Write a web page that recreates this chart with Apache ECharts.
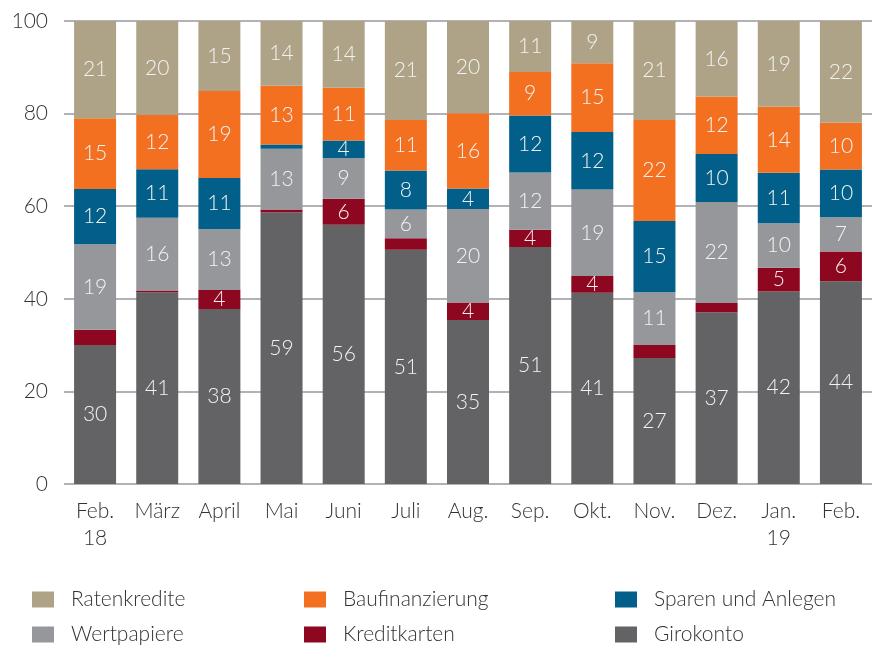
<!DOCTYPE html>
<html>
<head>
<meta charset="utf-8">
<script src="https://cdn.jsdelivr.net/npm/echarts@6/dist/echarts.min.js"></script>
<style>
  html, body { margin: 0; padding: 0; background: #fff; }
  #chart { width: 881px; height: 645px; }
</style>
</head>
<body>
<div id="chart"></div>
<script>
const months = ['Feb.\n18', 'März', 'April', 'Mai', 'Juni', 'Juli', 'Aug.', 'Sep.', 'Okt.', 'Nov.', 'Dez.', 'Jan.\n19', 'Feb.'];
const yTicks = [0, 20, 40, 60, 80, 100];

// shares in percent
const girokonto      = [30.0, 41.4, 37.8, 58.7, 56.0, 50.6, 35.4, 51.2, 41.3, 27.2, 37.1, 41.6, 43.8];
const kreditkarten   = [3.3, 0.4, 4.1, 0.6, 5.6, 2.5, 3.8, 3.7, 3.6, 2.8, 2.0, 5.1, 6.4];
const wertpapiere    = [18.5, 15.7, 13.2, 13.1, 8.8, 6.2, 20.2, 12.4, 18.7, 11.4, 21.8, 9.6, 7.4];
const sparen         = [11.9, 10.5, 11.0, 0.9, 3.8, 8.4, 4.4, 12.3, 12.4, 15.4, 10.4, 10.9, 10.3];
const baufinanzierung = [15.3, 11.7, 18.8, 12.7, 11.4, 10.9, 16.3, 9.4, 14.9, 21.8, 12.4, 14.3, 10.1];
const ratenkredite   = [21.0, 20.3, 15.1, 14.0, 14.4, 21.4, 19.9, 11.0, 9.1, 21.4, 16.3, 18.5, 22.0];

const FONT = 'Lato';
const chart = echarts.init(document.getElementById('chart'));

function bar(name, data, color) {
  return {
    name: name,
    type: 'bar',
    stack: 'total',
    barWidth: 42,
    data: data,
    itemStyle: { color: color },
    label: {
      show: true,
      position: 'inside',
      color: '#f2f2f2',
      fontFamily: FONT,
      fontWeight: 300,
      fontSize: 21,
      formatter: function (p) { return p.value >= 3.5 ? Math.round(p.value) : ''; }
    }
  };
}

// one legend per entry, laid out as 2 rows x 3 columns
function legend(left, top, name) {
  return {
    left: left,
    top: top,
    itemWidth: 22,
    itemHeight: 16,
    icon: 'rect',
    padding: 0,
    textStyle: {
      color: '#333',
      fontFamily: FONT,
      fontWeight: 300,
      fontSize: 21,
      padding: [0, 0, 0, 12]
    },
    data: [name]
  };
}

chart.setOption({
  animation: false,
  grid: { left: 64, right: 9, top: 21, bottom: 161 },
  legend: [
    legend(32, 589, 'Ratenkredite'),
    legend(32, 624, 'Wertpapiere'),
    legend(304, 589, 'Baufinanzierung'),
    legend(304, 624, 'Kreditkarten'),
    legend(615, 589, 'Sparen und Anlegen'),
    legend(615, 624, 'Girokonto')
  ],
  xAxis: {
    type: 'category',
    data: months,
    axisLine: { show: false },
    axisTick: { show: false },
    axisLabel: {
      color: '#333',
      fontFamily: FONT,
      fontWeight: 300,
      fontSize: 21,
      lineHeight: 27,
      margin: 14,
      interval: 0
    }
  },
  yAxis: {
    type: 'value',
    min: yTicks[0],
    max: yTicks[yTicks.length - 1],
    interval: yTicks[1] - yTicks[0],
    axisLine: { show: false },
    axisTick: { show: false },
    splitLine: { lineStyle: { color: '#b2b2b6', width: 2 } },
    axisLabel: {
      color: '#333',
      fontFamily: FONT,
      fontWeight: 300,
      fontSize: 21,
      margin: 16
    }
  },
  series: [
    bar('Girokonto', girokonto, '#636366'),
    bar('Kreditkarten', kreditkarten, '#8e0720'),
    bar('Wertpapiere', wertpapiere, '#96979b'),
    bar('Sparen und Anlegen', sparen, '#025f89'),
    bar('Baufinanzierung', baufinanzierung, '#f37021'),
    bar('Ratenkredite', ratenkredite, '#aea386')
  ]
});
</script>
</body>
</html>
